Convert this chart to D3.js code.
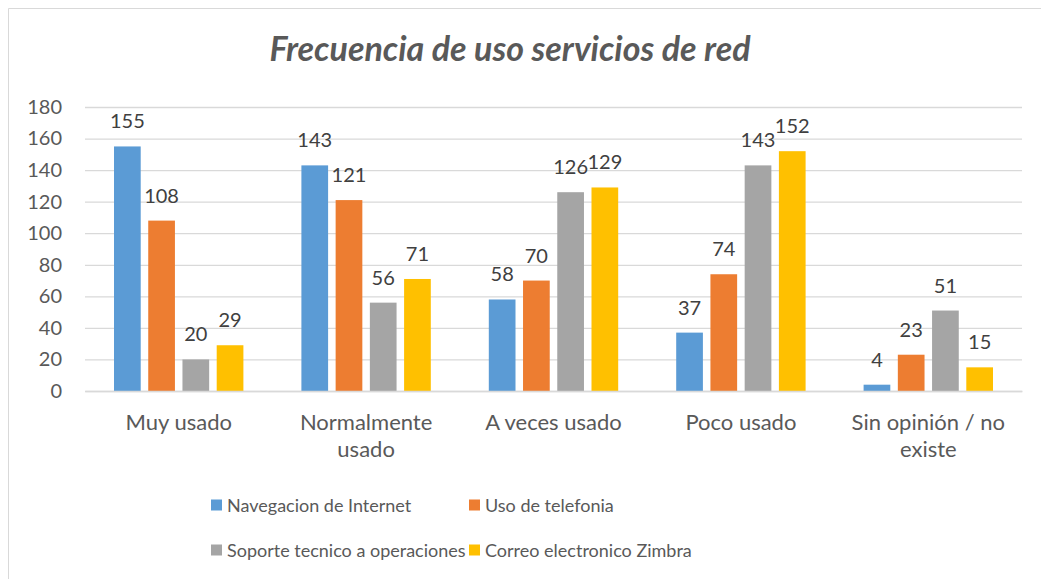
<!DOCTYPE html>
<html>
<head>
<meta charset="utf-8">
<script src="https://cdn.jsdelivr.net/npm/d3@7"></script>
<style>
  html, body { margin: 0; padding: 0; background: #fff; }
  svg { display: block; font-family: Lato, "Open Sans", sans-serif; }
</style>
</head>
<body>
<svg id="chart" width="1041" height="579"></svg>
<script>
const title = "Frecuencia de uso servicios de red";
const categories = ["Muy usado", "Normalmente usado", "A veces usado", "Poco usado", "Sin opinión / no existe"];
const seriesNames = ["Navegacion de Internet", "Uso de telefonia", "Soporte tecnico a operaciones", "Correo electronico Zimbra"];
const navegacion = [155, 143, 58, 37, 4];
const telefonia = [108, 121, 70, 74, 23];
const soporte = [20, 56, 126, 143, 51];
const correo = [29, 71, 129, 152, 15];
const yTicks = [0, 20, 40, 60, 80, 100, 120, 140, 160, 180];
const colors = ["#5B9BD5", "#ED7D31", "#A5A5A5", "#FFC000"];

const seriesValues = [navegacion, telefonia, soporte, correo];
const svg = d3.select("#chart");
const W = 1041, H = 579;
const textColor = "#595959";

// outer border (top & left visible)
svg.append("line").attr("x1", 8.5).attr("x2", W).attr("y1", 8.5).attr("y2", 8.5).attr("stroke", "#d9d9d9");
svg.append("line").attr("x1", 8.5).attr("x2", 8.5).attr("y1", 8.5).attr("y2", H).attr("stroke", "#d9d9d9");

const plot = { left: 85, right: 1022, top: 107, bottom: 391 };

const x0 = d3.scaleBand().domain(categories).range([plot.left, plot.right]).paddingInner(0).paddingOuter(0);
const x1 = d3.scaleBand().domain(d3.range(seriesNames.length)).range([29, x0.bandwidth() - 29]).paddingInner(0.22).paddingOuter(0);
const y = d3.scaleLinear().domain([0, 180]).range([plot.bottom, plot.top]);

// title
svg.append("text")
  .attr("x", 510).attr("y", 61)
  .attr("text-anchor", "middle")
  .attr("font-size", 34).attr("font-weight", "bold").attr("font-style", "italic")
  .attr("fill", textColor)
  .text(title);

// gridlines
const yAxis = d3.axisLeft(y).tickValues(yTicks).tickSize(-(plot.right - plot.left)).tickPadding(23);
const gy = svg.append("g").attr("transform", `translate(${plot.left},0)`).call(yAxis);
gy.select(".domain").remove();
gy.selectAll(".tick line").attr("stroke", "#d9d9d9").attr("stroke-width", 1.3);
gy.selectAll(".tick text").attr("fill", textColor).attr("font-size", 20).attr("font-family", "Lato, sans-serif");

// bars
const groups = svg.append("g").selectAll("g")
  .data(categories).join("g")
  .attr("transform", d => `translate(${x0(d)},0)`);

groups.selectAll("rect")
  .data((d, i) => seriesValues.map((s, j) => ({ j, v: s[i] })))
  .join("rect")
  .attr("x", d => x1(d.j))
  .attr("width", x1.bandwidth())
  .attr("y", d => y(d.v))
  .attr("height", d => y(0) - y(d.v))
  .attr("fill", d => colors[d.j]);

groups.selectAll("text.lbl")
  .data((d, i) => seriesValues.map((s, j) => ({ j, v: s[i] })))
  .join("text").attr("class", "lbl")
  .attr("x", d => x1(d.j) + x1.bandwidth() / 2)
  .attr("y", d => y(d.v) - 18)
  .attr("text-anchor", "middle")
  .attr("font-size", 20)
  .attr("fill", "#404040")
  .text(d => d.v);

// category labels with wrapping
const xAxis = d3.axisBottom(x0).tickSize(0).tickPadding(0);
const gx = svg.append("g").attr("transform", `translate(0,${plot.bottom})`).call(xAxis);
gx.select(".domain").attr("stroke", "#d9d9d9").attr("stroke-width", 1.3);
gx.selectAll(".tick text").each(function(d) {
  const t = d3.select(this);
  t.text(null).attr("y", 0).attr("dy", null)
    .attr("fill", textColor).attr("font-size", 22).attr("font-family", "Lato, sans-serif");
  const words = d.split(" ");
  const lines = [];
  let line = [];
  const tmp = t.append("tspan");
  for (const w of words) {
    line.push(w);
    tmp.text(line.join(" "));
    if (tmp.node().getComputedTextLength() > 160 && line.length > 1) {
      line.pop();
      lines.push(line.join(" "));
      line = [w];
    }
  }
  lines.push(line.join(" "));
  tmp.remove();
  lines.forEach((l, k) => {
    t.append("tspan").attr("x", 0).attr("y", 39 + k * 27).text(l);
  });
});

// legend
const legendPos = [
  { x: 211, y: 505 }, { x: 469, y: 505 },
  { x: 211, y: 550 }, { x: 469, y: 550 }
];
const lg = svg.append("g").selectAll("g").data(seriesNames).join("g")
  .attr("transform", (d, i) => `translate(${legendPos[i].x},${legendPos[i].y})`);
lg.append("rect").attr("x", 0).attr("y", -5.5).attr("width", 11).attr("height", 11)
  .attr("fill", (d, i) => colors[i]);
lg.append("text").attr("x", 16).attr("y", 6.5).attr("font-size", 18).attr("fill", textColor).text(d => d);
</script>
</body>
</html>
